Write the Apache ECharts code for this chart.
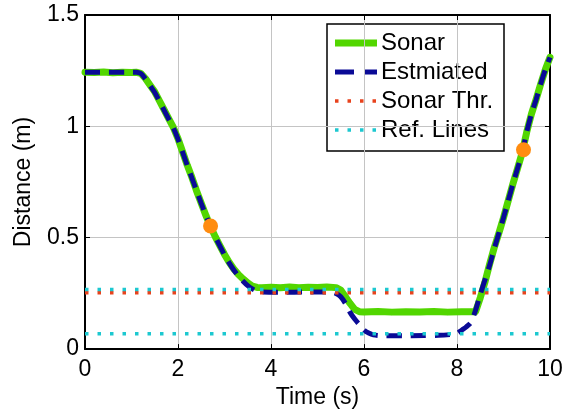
<!DOCTYPE html>
<html>
<head>
<meta charset="utf-8">
<script src="https://cdn.jsdelivr.net/npm/echarts@6/dist/echarts.min.js"></script>
<style>
  html, body { margin: 0; padding: 0; background: #fff; }
  #chart { width: 568px; height: 414px; }
</style>
</head>
<body>
<div id="chart"></div>
<script>
// Sonar range readings (s, m)
var sonarTime = [0, 0.2, 0.4, 0.6, 0.8, 1.0, 1.1, 1.2, 1.3, 1.4, 1.5, 1.6, 1.7, 1.8, 1.9, 2.0,
  2.1, 2.2, 2.3, 2.4, 2.5, 2.6, 2.7, 2.8, 2.9, 3.0, 3.1, 3.2, 3.3, 3.4, 3.5, 3.6, 3.7, 3.8,
  4.0, 4.2, 4.4, 4.6, 4.8, 5.0, 5.2, 5.4, 5.5, 5.6, 5.7, 5.8, 5.9, 6.0, 6.3, 6.6, 6.9, 7.2,
  7.5, 7.8, 8.1, 8.4, 8.5, 8.6, 8.7, 8.8, 8.9, 9.0, 9.1, 9.2, 9.3, 9.4, 9.5, 9.6, 9.7, 9.8,
  9.9, 10.0];
var sonarDist = [1.243, 1.242, 1.244, 1.241, 1.243, 1.242, 1.243, 1.238, 1.215, 1.185, 1.155,
  1.115, 1.075, 1.035, 0.995, 0.945, 0.885, 0.825, 0.77, 0.71, 0.655, 0.60, 0.55, 0.505,
  0.465, 0.425, 0.39, 0.36, 0.335, 0.315, 0.297, 0.283, 0.277, 0.276, 0.278, 0.275, 0.279,
  0.276, 0.278, 0.277, 0.279, 0.276, 0.265, 0.235, 0.205, 0.178, 0.168, 0.167, 0.169, 0.166,
  0.168, 0.167, 0.169, 0.166, 0.168, 0.168, 0.23, 0.30, 0.38, 0.455, 0.52, 0.59, 0.665, 0.74,
  0.81, 0.88, 0.975, 1.055, 1.12, 1.19, 1.255, 1.31];

// Filtered estimate (s, m)
var estTime = [0, 0.5, 1.0, 1.1, 1.2, 1.3, 1.4, 1.5, 1.6, 1.7, 1.8, 1.9, 2.0, 2.1, 2.2, 2.3,
  2.4, 2.5, 2.6, 2.7, 2.8, 2.9, 3.0, 3.1, 3.2, 3.3, 3.4, 3.5, 3.6, 3.7, 3.8, 4.2, 4.8, 5.3,
  5.4, 5.5, 5.6, 5.7, 5.8, 5.9, 6.0, 6.1, 6.2, 6.4, 7.0, 7.6, 7.9, 8.0, 8.1, 8.2, 8.3, 8.4,
  8.5, 8.6, 8.7, 8.8, 8.9, 9.0, 9.1, 9.2, 9.3, 9.4, 9.5, 9.6, 9.7, 9.8, 9.9, 10.0];
var estDist = [1.243, 1.243, 1.243, 1.243, 1.237, 1.213, 1.183, 1.152, 1.113, 1.073, 1.033,
  0.993, 0.943, 0.884, 0.824, 0.768, 0.71, 0.654, 0.6, 0.55, 0.504, 0.463, 0.423, 0.387,
  0.355, 0.328, 0.305, 0.285, 0.27, 0.26, 0.256, 0.255, 0.256, 0.256, 0.25, 0.235, 0.205,
  0.165, 0.135, 0.11, 0.085, 0.072, 0.064, 0.06, 0.06, 0.062, 0.066, 0.07, 0.085, 0.1,
  0.12, 0.175, 0.245, 0.31, 0.375, 0.45, 0.52, 0.59, 0.665, 0.74, 0.81, 0.88, 0.975, 1.055,
  1.12, 1.19, 1.255, 1.31];

// Horizontal reference levels (m)
var sonarThreshold = 0.253;
var refLevels = [0.268, 0.069];

// Highlighted samples
var markTime = [2.7, 9.43];
var markDist = [0.553, 0.895];

// Axis ticks
var xTicks = { min: 0, max: 10, step: 2 };
var yTicks = { min: 0, max: 1.5, step: 0.5 };

// Legend entries
var legendNames = ['Sonar', 'Estmiated', 'Sonar Thr.', 'Ref. Lines'];

var FONT = 'Liberation Sans, Arial, sans-serif';
var C_SONAR = '#52d600', C_EST = '#0a0a96', C_THR = '#e8421c', C_REF = '#1cc8d0';

function pairs(xs, ys) { return xs.map(function (x, i) { return [x, ys[i]]; }); }
function hline(y) { return [[xTicks.min, y], [xTicks.max, y]]; }

var chart = echarts.init(document.getElementById('chart'), null, { renderer: 'canvas' });

var axisCommon = {
  type: 'value',
  axisLine: { show: true, onZero: false, lineStyle: { color: '#000', width: 2 } },
  axisTick: { show: true, inside: true, length: 5, lineStyle: { color: '#000', width: 1 } },
  axisLabel: { color: '#000', fontFamily: FONT, fontSize: 23 },
  nameTextStyle: { color: '#000', fontFamily: FONT, fontSize: 23 }
};

// Legend box drawn as a graphic group
var LX = 327, LY = 24, LW = 177, LH = 127, ROW = 29, ICON_X0 = 335, ICON_X1 = 377;
var legendStyles = [
  { stroke: C_SONAR, lineWidth: 7, lineDash: null },
  { stroke: C_EST, lineWidth: 5, lineDash: [19, 10] },
  { stroke: C_THR, lineWidth: 3.5, lineDash: [3.5, 9] },
  { stroke: C_REF, lineWidth: 3.5, lineDash: [3.5, 9] }
];
var legendChildren = [{
  type: 'rect',
  shape: { x: LX, y: LY, width: LW, height: LH },
  style: { fill: '#fff', stroke: '#000', lineWidth: 1.5 }
}];
legendNames.forEach(function (name, i) {
  var cy = LY + 19 + i * ROW;
  legendChildren.push({
    type: 'line',
    shape: { x1: ICON_X0, y1: cy, x2: ICON_X1, y2: cy },
    style: Object.assign({ lineCap: 'butt' }, legendStyles[i])
  });
  legendChildren.push({
    type: 'text',
    x: ICON_X1 + 4, y: cy,
    style: { text: name, fill: '#000', font: '24px ' + FONT, textVerticalAlign: 'middle', verticalAlign: 'middle' }
  });
});

var option = {
  animation: false,
  backgroundColor: '#fff',
  grid: { left: 85, right: 18, top: 15, bottom: 59, containLabel: false },
  xAxis: [
    Object.assign({}, axisCommon, {
      position: 'bottom',
      min: xTicks.min, max: xTicks.max, interval: xTicks.step,
      name: 'Time (s)', nameLocation: 'middle', nameGap: 36,
      axisLabel: Object.assign({}, axisCommon.axisLabel, { margin: 9 }),
      splitLine: { show: true, lineStyle: { color: '#c4c4c4', width: 1 } }
    }),
    Object.assign({}, axisCommon, {
      position: 'top',
      min: xTicks.min, max: xTicks.max, interval: xTicks.step,
      axisLabel: { show: false },
      splitLine: { show: false }
    })
  ],
  yAxis: [
    Object.assign({}, axisCommon, {
      position: 'left',
      min: yTicks.min, max: yTicks.max, interval: yTicks.step,
      name: 'Distance (m)', nameLocation: 'middle', nameGap: 50, nameRotate: 90,
      axisLabel: Object.assign({}, axisCommon.axisLabel, { margin: 6 }),
      splitLine: { show: true, lineStyle: { color: '#c4c4c4', width: 1 } }
    }),
    Object.assign({}, axisCommon, {
      position: 'right',
      min: yTicks.min, max: yTicks.max, interval: yTicks.step,
      axisLabel: { show: false },
      splitLine: { show: false }
    })
  ],
  graphic: [{ type: 'group', z: 100, children: legendChildren }],
  series: [
    {
      name: legendNames[0], type: 'line', data: pairs(sonarTime, sonarDist),
      showSymbol: false, symbol: 'none', z: 2,
      lineStyle: { color: C_SONAR, width: 7, cap: 'round', join: 'round' },
      itemStyle: { color: C_SONAR }
    },
    {
      name: legendNames[1], type: 'line', data: pairs(estTime, estDist),
      showSymbol: false, symbol: 'none', z: 3, smooth: 0.3,
      lineStyle: { color: C_EST, width: 5, type: [15, 9], cap: 'butt' },
      itemStyle: { color: C_EST }
    },
    {
      name: legendNames[2], type: 'line', data: hline(sonarThreshold),
      showSymbol: false, symbol: 'none', z: 4,
      lineStyle: { color: C_THR, width: 3.5, type: [3.5, 9] },
      itemStyle: { color: C_THR }
    },
    {
      name: legendNames[3], type: 'line', data: hline(refLevels[0]),
      showSymbol: false, symbol: 'none', z: 4,
      lineStyle: { color: C_REF, width: 3.5, type: [3.5, 9] },
      itemStyle: { color: C_REF }
    },
    {
      name: legendNames[3], type: 'line', data: hline(refLevels[1]),
      showSymbol: false, symbol: 'none', z: 4,
      lineStyle: { color: C_REF, width: 3.5, type: [3.5, 9] },
      itemStyle: { color: C_REF }
    },
    {
      name: 'marks', type: 'scatter', data: pairs(markTime, markDist),
      symbol: 'circle', symbolSize: 15, z: 5,
      itemStyle: { color: '#ff8c10', opacity: 1 }
    }
  ]
};

chart.setOption(option);
</script>
</body>
</html>
